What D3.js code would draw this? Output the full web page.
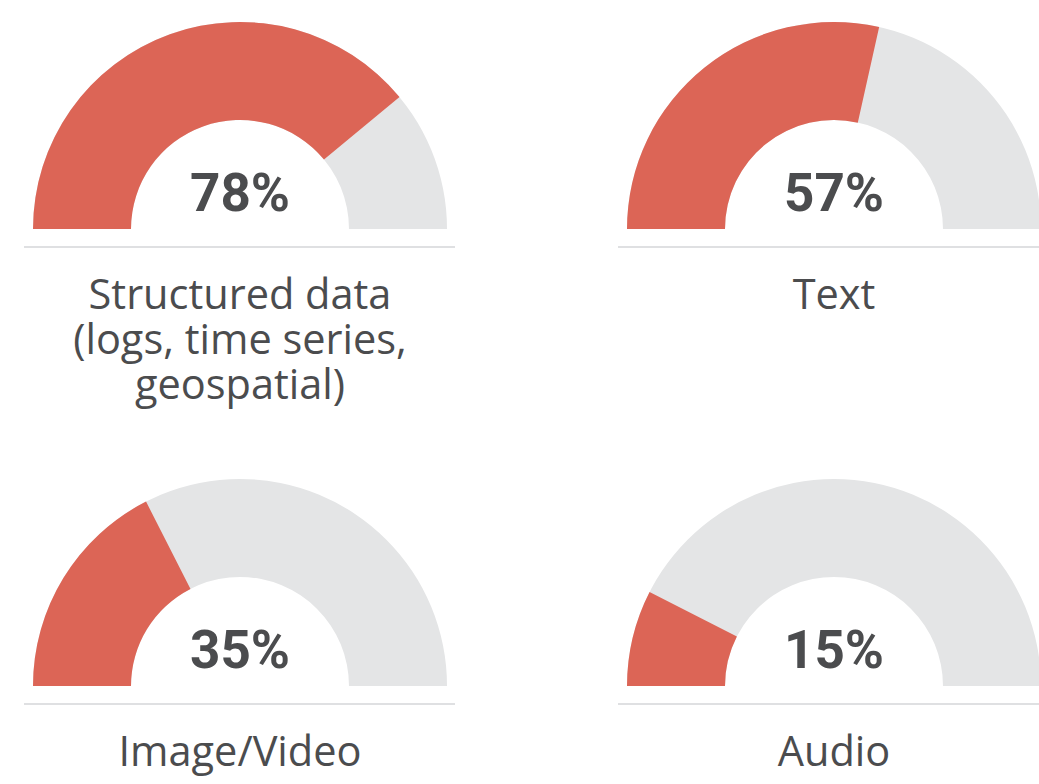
<!DOCTYPE html>
<html>
<head>
<meta charset="utf-8">
<script src="https://cdn.jsdelivr.net/npm/d3@7"></script>
<style>
  html, body { margin: 0; padding: 0; background: #ffffff; }
  svg { display: block; }
</style>
</head>
<body>
<svg id="chart" width="1039" height="784"></svg>
<script>
// ---- data ----
const categories = ["Structured data", "Text", "Image/Video", "Audio"];
const labelLines = [
  ["Structured data", "(logs, time series,", "geospatial)"],
  ["Text"],
  ["Image/Video"],
  ["Audio"]
];
const values = [78, 57, 35, 15];

// ---- layout ----
const colCenters = [240, 834];
const rowBaselines = [229, 686];
const outerR = 207, innerR = 109;
const red = "#dc6556", grey = "#e4e5e6", textColor = "#4b4c4e", ruleColor = "#dfe0e2";

const svg = d3.select("#chart");

// value -> angle scale (semicircle from left to right)
const angle = d3.scaleLinear().domain([0, 100]).range([-Math.PI / 2, Math.PI / 2]);
const arc = d3.arc().innerRadius(innerR).outerRadius(outerR);

categories.forEach((cat, i) => {
  const cx = colCenters[i % 2];
  const by = rowBaselines[Math.floor(i / 2)];
  const g = svg.append("g").attr("transform", `translate(${cx},${by})`);

  g.append("path")
    .attr("d", arc({ startAngle: angle(0), endAngle: angle(100) }))
    .attr("fill", grey);
  g.append("path")
    .attr("d", arc({ startAngle: angle(0), endAngle: angle(values[i]) }))
    .attr("fill", red);

  g.append("text")
    .attr("x", 0).attr("y", -18)
    .attr("text-anchor", "middle")
    .attr("font-family", "Roboto, 'Noto Sans', sans-serif")
    .attr("font-weight", 700)
    .attr("font-size", 53)
    .attr("fill", textColor)
    .text(d3.format("d")(values[i]) + "%");

  g.append("line")
    .attr("x1", -216).attr("x2", 215)
    .attr("y1", 18).attr("y2", 18)
    .attr("stroke", ruleColor).attr("stroke-width", 2);

  labelLines[i].forEach((ln, j) => {
    g.append("text")
      .attr("x", 0).attr("y", 80 + j * 45)
      .attr("text-anchor", "middle")
      .attr("font-family", "'Open Sans', 'Noto Sans', sans-serif")
      .attr("font-size", 41.5)
      .attr("fill", textColor)
      .text(ln);
  });
});
</script>
</body>
</html>
